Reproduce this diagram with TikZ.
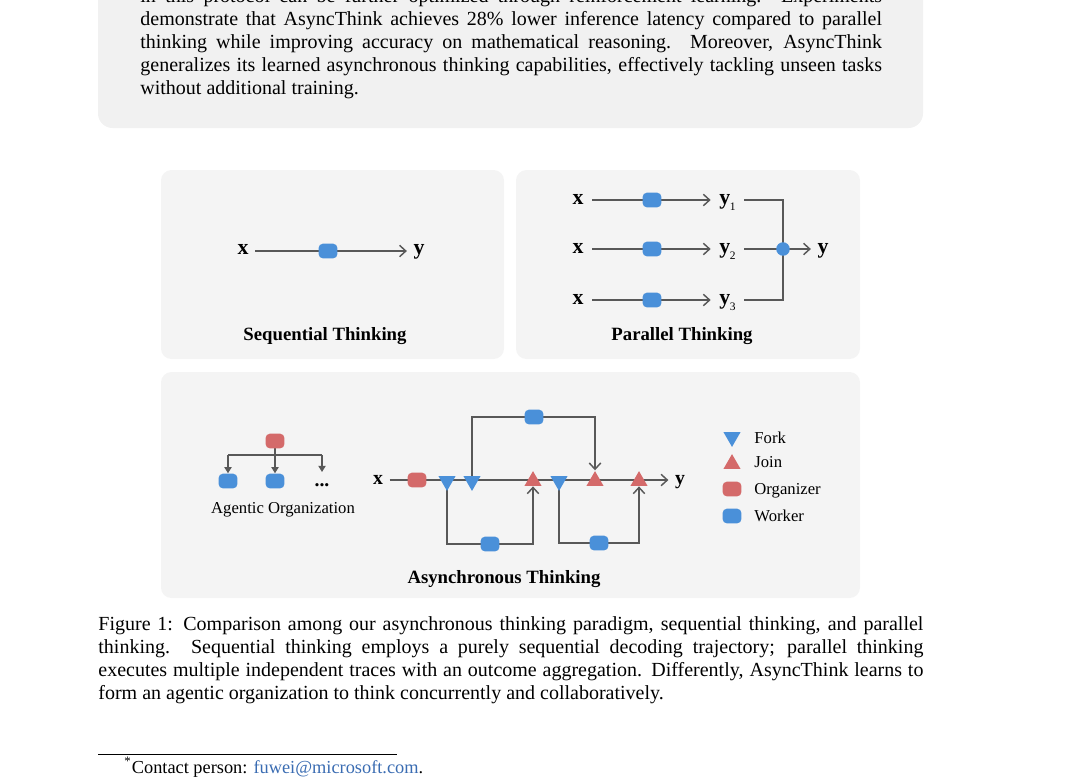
\documentclass[tikz,border=0pt]{standalone}
\usepackage{fontspec}
\setmainfont{Liberation Serif}
\usetikzlibrary{arrows.meta,shapes.geometric}
\definecolor{workerblue}{RGB}{74,144,217}
\definecolor{orgred}{RGB}{212,106,106}
\definecolor{wiregray}{RGB}{88,88,88}
\definecolor{panelbg}{RGB}{244,244,244}
\definecolor{abstractbg}{RGB}{241,241,241}
\definecolor{linkblue}{RGB}{58,108,178}
\pgfdeclarelayer{panels}
\pgfdeclarelayer{wires}
\pgfsetlayers{panels,wires,main}
\newcommand{\ysub}[1]{\textbf{y}\kern-0.2pt\raisebox{-3pt}{\mdseries\fontsize{5.5}{5.5}\selectfont #1}}
\tikzset{
  worker/.style={fill=workerblue, rounded corners=2pt, minimum width=9pt, minimum height=7pt, inner sep=0pt},
  organizer/.style={worker, fill=orgred},
  forkmark/.style={regular polygon, regular polygon sides=3, shape border rotate=180, fill=workerblue, minimum size=9.5pt, inner sep=0pt},
  joinmark/.style={regular polygon, regular polygon sides=3, fill=orgred, minimum size=9.5pt, inner sep=0pt},
  wire/.style={draw=wiregray, line width=0.7pt},
  flow/.style={wire, -{Straight Barb[length=3pt,width=5.5pt]}},
  tree/.style={wire, -{Triangle[length=3pt,width=3.5pt]}},
  var/.style={font=\fontsize{10.5}{10.5}\selectfont\bfseries, inner sep=0pt, anchor=base},
  varsm/.style={var, font=\fontsize{9.5}{9.5}\selectfont\bfseries},
  title/.style={font=\fontsize{9}{9}\selectfont\bfseries, inner sep=0pt, anchor=base},
  legtext/.style={font=\fontsize{8}{8}\selectfont, inner sep=0pt, anchor=base west},
  bodytext/.style={font=\fontsize{9.6}{11}\selectfont, align=justify, inner sep=0pt, anchor=base west}
}
\begin{document}
\begin{tikzpicture}[x=0.48pt,y=-0.48pt]
  \useasboundingbox (0,0) rectangle (1084,776);
  \clip (0,0) rectangle (1084,776);
  \begin{pgfonlayer}{panels}
    \fill[abstractbg, rounded corners=7pt] (98,-60) rectangle (923,128);
    \fill[panelbg, rounded corners=5pt] (161,170) rectangle (504,359);
    \fill[panelbg, rounded corners=5pt] (516,170) rectangle (860,359);
    \fill[panelbg, rounded corners=5pt] (161,372) rectangle (860,598);
  \end{pgfonlayer}

  \node[bodytext, text width=356pt] (abstract) at (140,2.5) {in this protocol can be further optimized through reinforcement learning. Experiments\linebreak demonstrate that AsyncThink achieves 28\% lower inference latency compared to parallel\linebreak thinking while improving accuracy on mathematical reasoning. Moreover, AsyncThink\linebreak generalizes its learned asynchronous thinking capabilities, effectively tackling unseen tasks\linebreak without additional training.};

  \node[var] (seqx) at (243,254) {x};
  \node[worker] (seqw) at (328,251) {};
  \node[var] (seqy) at (419,254) {y};
  \node[title] (seqtitle) at (325,340) {Sequential Thinking};
  \begin{pgfonlayer}{wires}
    \draw[flow, shorten <=3pt, shorten >=3pt] (seqx.east |- seqw) -- (seqy.west |- seqw);
  \end{pgfonlayer}

  \foreach \r/\yy in {1/200,2/249,3/300} {
    \node[var] (parx\r) at (578,\yy+4) {x};
    \node[worker] (parw\r) at (652,\yy) {};
    \node[var, anchor=base west] (pary\r) at (719,\yy+4) {\ysub{\r}};
    \begin{pgfonlayer}{wires}
      \draw[flow, shorten <=4pt, shorten >=4pt] (parx\r.east |- parw\r) -- (pary\r.west |- parw\r);
    \end{pgfonlayer}
  }
  \node[circle, fill=workerblue, minimum size=6.5pt, inner sep=0pt] (merge) at (783,249) {};
  \node[var] (pary) at (823,253) {y};
  \node[title] (partitle) at (682,340) {Parallel Thinking};
  \begin{pgfonlayer}{wires}
    \draw[wire, shorten <=4pt] (pary1.east |- parw1) -| (merge.center);
    \draw[wire, shorten <=4pt] (pary2.east |- parw2) -- (merge.center);
    \draw[wire, shorten <=4pt] (pary3.east |- parw3) -| (merge.center);
    \draw[flow, shorten >=3pt] (merge.center) -- (pary.west |- merge);
  \end{pgfonlayer}

  \node[organizer] (boss) at (275,441) {};
  \node[worker] (agA) at (228,481) {};
  \node[worker] (agB) at (275,481) {};
  \node[font=\fontsize{9.5}{9.5}\selectfont\bfseries, inner sep=0pt, anchor=base] (agmore) at (322,486) {...};
  \coordinate (split) at (275,455);
  \coordinate (moretip) at (322,472);
  \node[legtext, anchor=base] (agtitle) at (283,513) {Agentic Organization};
  \begin{pgfonlayer}{wires}
    \draw[wire] (boss.center) -- (split);
    \draw[wire] (agA |- split) -- (moretip |- split);
    \draw[tree] (agA |- split) -- (agA.north);
    \draw[tree] (split) -- (agB.north);
    \draw[tree] (moretip |- split) -- (moretip);
  \end{pgfonlayer}

  \node[varsm] (asx) at (378,484) {x};
  \node[organizer] (asorg) at (417,480) {};
  \node[forkmark] (fkA) at (447,481) {};
  \node[forkmark] (fkB) at (472,481) {};
  \node[joinmark] (jnA) at (533,481) {};
  \node[forkmark] (fkC) at (559,481) {};
  \node[joinmark] (jnB) at (595,481) {};
  \node[joinmark] (jnC) at (639,481) {};
  \node[varsm] (asy) at (680,484) {y};
  \node[worker] (wkTop) at (534,417) {};
  \node[worker] (wkA) at (490,544) {};
  \node[worker] (wkC) at (599,543) {};
  \node[title] (astitle) at (504,583) {Asynchronous Thinking};
  \begin{pgfonlayer}{wires}
    \draw[flow, shorten <=3pt, shorten >=3pt] (asx.east |- asorg) -- (asy.west |- asorg);
    \draw[flow] (fkA.center) |- (wkA.center) -| (jnA.south);
    \draw[flow] (fkB.center) |- (wkTop.center) -| (jnB.north);
    \draw[flow] (fkC.center) |- (wkC.center) -| (jnC.south);
  \end{pgfonlayer}

  \node[forkmark] (lgfork) at (732,437) {};
  \node[joinmark] (lgjoin) at (732,464) {};
  \node[organizer] (lgorg) at (732,489) {};
  \node[worker] (lgwork) at (732,516) {};
  \node[legtext] (lgforktext) at (754,443) {Fork};
  \node[legtext] (lgjointext) at (754,467) {Join};
  \node[legtext] (lgorgtext) at (754,494) {Organizer};
  \node[legtext] (lgworktext) at (754,521) {Worker};

  \node[bodytext, text width=396pt] (caption) at (98,630.5) {Figure 1: Comparison among our asynchronous thinking paradigm, sequential thinking, and parallel\linebreak thinking. Sequential thinking employs a purely sequential decoding trajectory; parallel thinking\linebreak executes multiple independent traces with an outcome aggregation. Differently, AsyncThink learns to\linebreak form an agentic organization to think concurrently and collaboratively.};

  \draw[line width=0.4pt] (98,754) -- (397,754);
  \node[bodytext, font=\fontsize{8.8}{10}\selectfont] (contact) at (124,773.5) {\textsuperscript{*}Contact person: \textcolor{linkblue}{fuwei@microsoft.com}.};
\end{tikzpicture}
\end{document}
